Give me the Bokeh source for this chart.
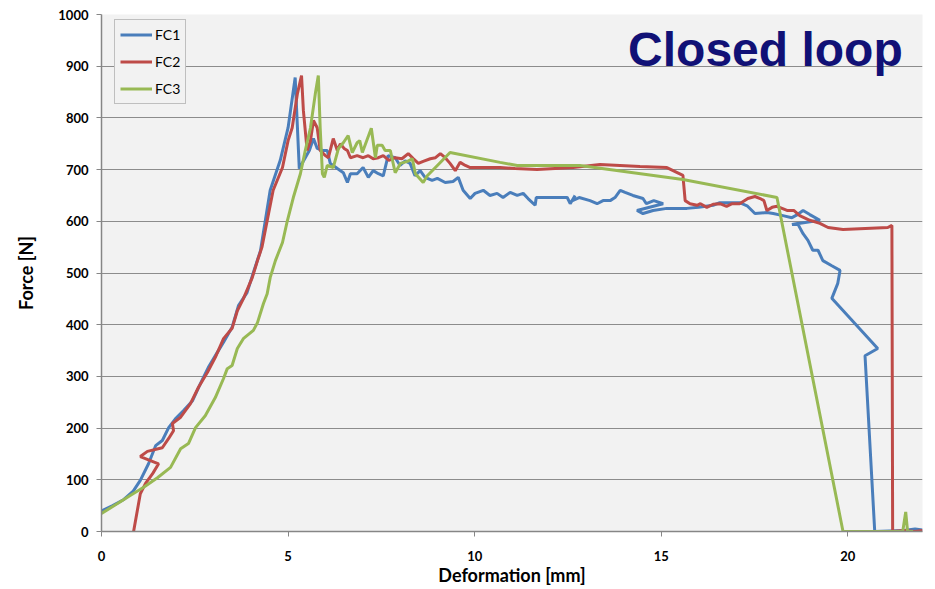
from bokeh.plotting import figure
from bokeh.models import Range1d, Legend, LegendItem, Label, FixedTicker
from bokeh.embed import file_html
from bokeh.resources import INLINE

fc1_x = [0.0, 0.3, 0.6, 0.85, 1.04, 1.26, 1.45, 1.63, 1.8, 1.98, 2.2, 2.44, 2.65, 2.86, 3.1, 3.27, 3.5, 3.67, 3.9, 4.07,
         4.26, 4.52, 4.79, 5.0, 5.19, 5.3, 5.46, 5.57, 5.68, 5.78, 5.92, 6.05, 6.13, 6.32, 6.48, 6.59, 6.67, 6.85, 7.01, 7.15,
         7.28, 7.42, 7.55, 7.68, 7.87, 8.0, 8.14, 8.27, 8.4, 8.54, 8.67, 8.86, 9.0, 9.21, 9.42, 9.56, 9.69, 9.88, 10.01, 10.23,
         10.41, 10.6, 10.76, 10.95, 11.14, 11.3, 11.43, 11.62, 11.65, 12.48, 12.56, 12.69, 12.62, 12.8, 13.09, 13.28, 13.44, 13.63, 13.76, 13.9,
         14.03, 14.24, 14.51, 14.6, 14.8, 15.05, 14.35, 14.51, 14.78, 15.15, 15.69, 16.0, 16.39, 16.57, 16.75, 17.1, 17.3, 17.51, 17.83, 18.0,
         18.26, 18.5, 18.65, 18.8, 18.98, 19.25, 18.5, 18.65, 18.8, 18.93, 19.06, 19.2, 19.33, 19.57, 19.79, 19.73, 19.57, 20.8, 20.46, 20.72,
         21.5, 21.8, 22.0]
fc1_y = [40, 50, 62, 78, 99, 131, 166, 176, 201, 218, 234, 253, 286, 317, 346, 366, 395, 437, 462, 501,
         543, 660, 718, 781, 878, 702, 723, 737, 760, 741, 737, 737, 712, 702, 694, 675, 692, 692, 704, 685,
         698, 692, 688, 727, 723, 708, 717, 712, 688, 698, 685, 679, 683, 675, 677, 685, 660, 644, 654, 660,
         650, 654, 646, 656, 650, 654, 644, 631, 646, 646, 634, 650, 640, 646, 640, 634, 640, 640, 646, 660,
         656, 650, 644, 634, 640, 634, 621, 615, 621, 625, 625, 627, 631, 636, 636, 636, 630, 615, 617, 615,
         611, 607, 613, 621, 613, 602, 594, 596, 576, 563, 544, 544, 524, 514, 505, 480, 451, 354, 340, 0,
         2, 5, 3]

fc2_x = [0.86, 1.04, 1.18, 1.37, 1.53, 1.04, 1.23, 1.63, 1.8, 1.93, 1.9, 2.12, 2.38, 2.6, 2.84, 3.05, 3.27, 3.5, 3.64, 3.8,
         4.04, 4.18, 4.3, 4.6, 4.85, 5.0, 5.11, 5.25, 5.36, 5.41, 5.51, 5.6, 5.68, 5.78, 5.86, 6.0, 6.08, 6.21, 6.32, 6.4,
         6.5, 6.59, 6.67, 6.85, 7.01, 7.15, 7.28, 7.42, 7.55, 7.7, 7.87, 8.05, 8.22, 8.36, 8.49, 8.62, 8.81, 8.95, 9.08, 9.21,
         9.34, 9.48, 9.61, 9.75, 9.88, 10.15, 10.68, 11.08, 11.67, 12.64, 13.36, 14.43, 15.15, 15.58, 15.64, 15.77, 15.96, 16.05, 16.22, 16.39,
         16.57, 16.75, 16.9, 17.1, 17.32, 17.51, 17.65, 17.75, 17.83, 17.97, 18.1, 18.37, 18.55, 18.71, 18.98, 19.25, 19.47, 19.87, 21.07, 21.18,
         21.2, 21.5, 21.8, 22.0]
fc2_y = [0, 73, 93, 112, 131, 145, 155, 162, 180, 195, 209, 221, 247, 279, 308, 337, 373, 393, 427, 450,
         491, 524, 550, 660, 704, 756, 781, 847, 882, 814, 737, 756, 795, 781, 737, 727, 723, 760, 737, 750,
         741, 737, 723, 727, 723, 727, 721, 723, 727, 718, 723, 721, 731, 721, 712, 716, 721, 723, 731, 723,
         712, 698, 714, 708, 704, 704, 704, 702, 700, 704, 710, 706, 704, 689, 640, 634, 631, 634, 627, 633,
         634, 629, 634, 634, 644, 648, 644, 640, 621, 627, 629, 621, 621, 611, 602, 596, 588, 584, 588, 592,
         0, 2, 0, 2]

fc3_x = [0.0, 0.43, 0.78, 1.12, 1.5, 1.85, 2.12, 2.33, 2.52, 2.78, 3.05, 3.27, 3.37, 3.5, 3.64, 3.8, 4.07, 4.18, 4.34, 4.44,
         4.52, 4.66, 4.85, 4.98, 5.14, 5.33, 5.46, 5.6, 5.73, 5.81, 5.86, 5.92, 5.97, 6.05, 6.21, 6.35, 6.48, 6.61, 6.72, 6.85,
         6.92, 6.99, 7.23, 7.34, 7.39, 7.52, 7.6, 7.74, 7.87, 8.01, 8.2, 8.33, 8.41, 8.62, 8.73, 9.0, 9.34, 10.68, 11.14, 12.82,
         15.58, 18.1, 19.87, 21.47, 21.55, 21.6, 21.75]
fc3_y = [35, 54, 70, 85, 104, 124, 160, 170, 201, 224, 259, 296, 315, 321, 354, 373, 389, 404, 441, 460,
         491, 524, 559, 601, 646, 692, 737, 781, 847, 882, 781, 692, 685, 708, 704, 741, 752, 766, 733, 752,
         756, 733, 780, 723, 747, 747, 737, 737, 694, 712, 716, 721, 692, 675, 688, 708, 733, 714, 708, 708,
         681, 646, 0, 0, 38, 0, 0]

series_names = ["FC1", "FC2", "FC3"]
x_ticks = [0, 5, 10, 15, 20]
y_ticks = [0, 100, 200, 300, 400, 500, 600, 700, 800, 900, 1000]
title_text = "Closed loop"

colors = ["#4a7ebb", "#be4b48", "#98b954"]
FONT = "Lato"

p = figure(width=935, height=589, output_backend="svg", toolbar_location=None,
           x_range=Range1d(0, 22), y_range=Range1d(0, 1000),
           min_border_left=101, min_border_right=13, min_border_top=14, min_border_bottom=58)
p.background_fill_color = "#f2f2f2"
p.border_fill_color = "white"
p.outline_line_color = None

renderers = []
for xs, ys, c in zip([fc1_x, fc2_x, fc3_x], [fc1_y, fc2_y, fc3_y], colors):
    r = p.line(xs, ys, line_color=c, line_width=3)
    renderers.append(r)

p.xgrid.grid_line_color = None
p.ygrid.grid_line_color = "#8c8c8c"
p.ygrid.grid_line_width = 1
p.xaxis.ticker = FixedTicker(ticks=x_ticks)
p.yaxis.ticker = FixedTicker(ticks=y_ticks)

for ax in (p.xaxis[0], p.yaxis[0]):
    ax.axis_line_color = "#868686"
    ax.axis_line_width = 1.5
    ax.major_tick_line_color = "#868686"
    ax.major_tick_in = 0
    ax.major_tick_out = 5
    ax.minor_tick_line_color = None
    ax.major_label_text_font = FONT
    ax.major_label_text_font_style = "bold"
    ax.major_label_text_font_size = "13px"
    ax.major_label_text_color = "black"
    ax.axis_label_text_font = FONT
    ax.axis_label_text_font_style = "bold"
    ax.axis_label_text_font_size = "18px"
    ax.axis_label_text_color = "black"

p.xaxis.axis_label = "Deformation [mm]"
p.yaxis.axis_label = "Force [N]"
p.xaxis.major_label_standoff = 14
p.xaxis.axis_label_standoff = 0
p.yaxis.major_label_standoff = 8
p.yaxis.axis_label_standoff = 18

items = [LegendItem(label=n, renderers=[r]) for n, r in zip(series_names, renderers)]
legend = Legend(items=items, location=(13, 427))
legend.label_text_font = FONT
legend.label_text_font_size = "14px"
legend.label_text_color = "black"
legend.glyph_width = 32
legend.glyph_height = 19
legend.label_height = 19
legend.label_standoff = 3
legend.spacing = 8
legend.padding = 5
legend.margin = 0
legend.border_line_color = "#8c8c8c"
legend.border_line_width = 1
legend.background_fill_color = "#f2f2f2"
legend.background_fill_alpha = 1
p.add_layout(legend)

title = Label(x=21.47, y=932, text=title_text, text_align="right", text_baseline="alphabetic",
              text_font="Liberation Sans", text_font_style="bold", text_font_size="48px",
              text_color="#111176")
p.add_layout(title)

open("out.html", "w").write(file_html(p, INLINE))
